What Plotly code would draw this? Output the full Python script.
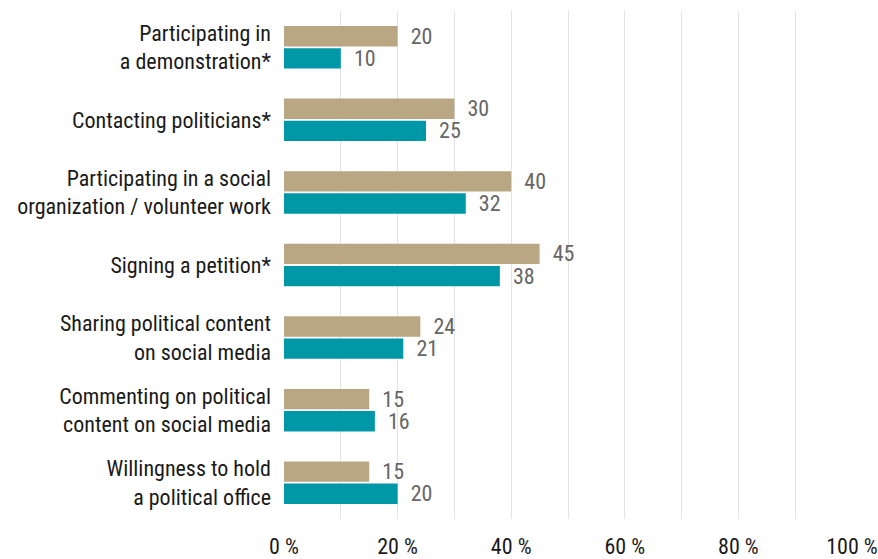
import plotly.graph_objects as go

# Activities (top to bottom) and shares in percent for the two groups
categories = [
    "Participating in<br>a demonstration*",
    "Contacting politicians*",
    "Participating in a social<br>organization / volunteer work",
    "Signing a petition*",
    "Sharing political content<br>on social media",
    "Commenting on political<br>content on social media",
    "Willingness to hold<br>a political office",
]
series_a = [20, 30, 40, 45, 24, 15, 15]
series_b = [10, 25, 32, 38, 21, 16, 20]
tick_values = [0, 20, 40, 60, 80, 100]
tick_labels = ["0 %", "20 %", "40 %", "60 %", "80 %", "100 %"]

FONT = "Roboto Condensed, Liberation Sans Narrow, Roboto, sans-serif"
PAD = "\u00a0\u00a0"

fig = go.Figure()
for values, color in ((series_a, "#B9A783"), (series_b, "#0097A7")):
    fig.add_trace(go.Bar(
        y=categories, x=values, orientation="h",
        marker=dict(color=color, line=dict(width=0)),
        text=[str(v) for v in values], texttemplate=PAD + "%{text}",
        textposition="outside", constraintext="none",
        textfont=dict(color="#666666", size=22, family=FONT),
        cliponaxis=False, showlegend=False,
    ))

fig.update_layout(
    width=878, height=559,
    margin=dict(l=284, r=26, t=11, b=40, autoexpand=False),
    paper_bgcolor="white", plot_bgcolor="white",
    barmode="group", bargap=0.39, bargroupgap=0.08,
    font=dict(family=FONT, size=22, color="#1a1a1a"),
)
fig.update_xaxes(
    range=[0, 100], tickvals=tick_values, ticktext=tick_labels,
    showgrid=True, gridcolor="#E3E3E3", gridwidth=1,
    minor=dict(dtick=10, showgrid=True, gridcolor="#E3E3E3", gridwidth=1),
    zeroline=False, showline=False, ticks="", automargin=False,
    ticklabelstandoff=12,
    tickfont=dict(size=22, color="#1a1a1a"),
)
fig.update_yaxes(
    autorange="reversed", showgrid=False, showline=False, ticks="",
    automargin=False, ticklabelstandoff=12,
    tickfont=dict(size=22, color="#1a1a1a"),
)

fig.write_html("out.html")
